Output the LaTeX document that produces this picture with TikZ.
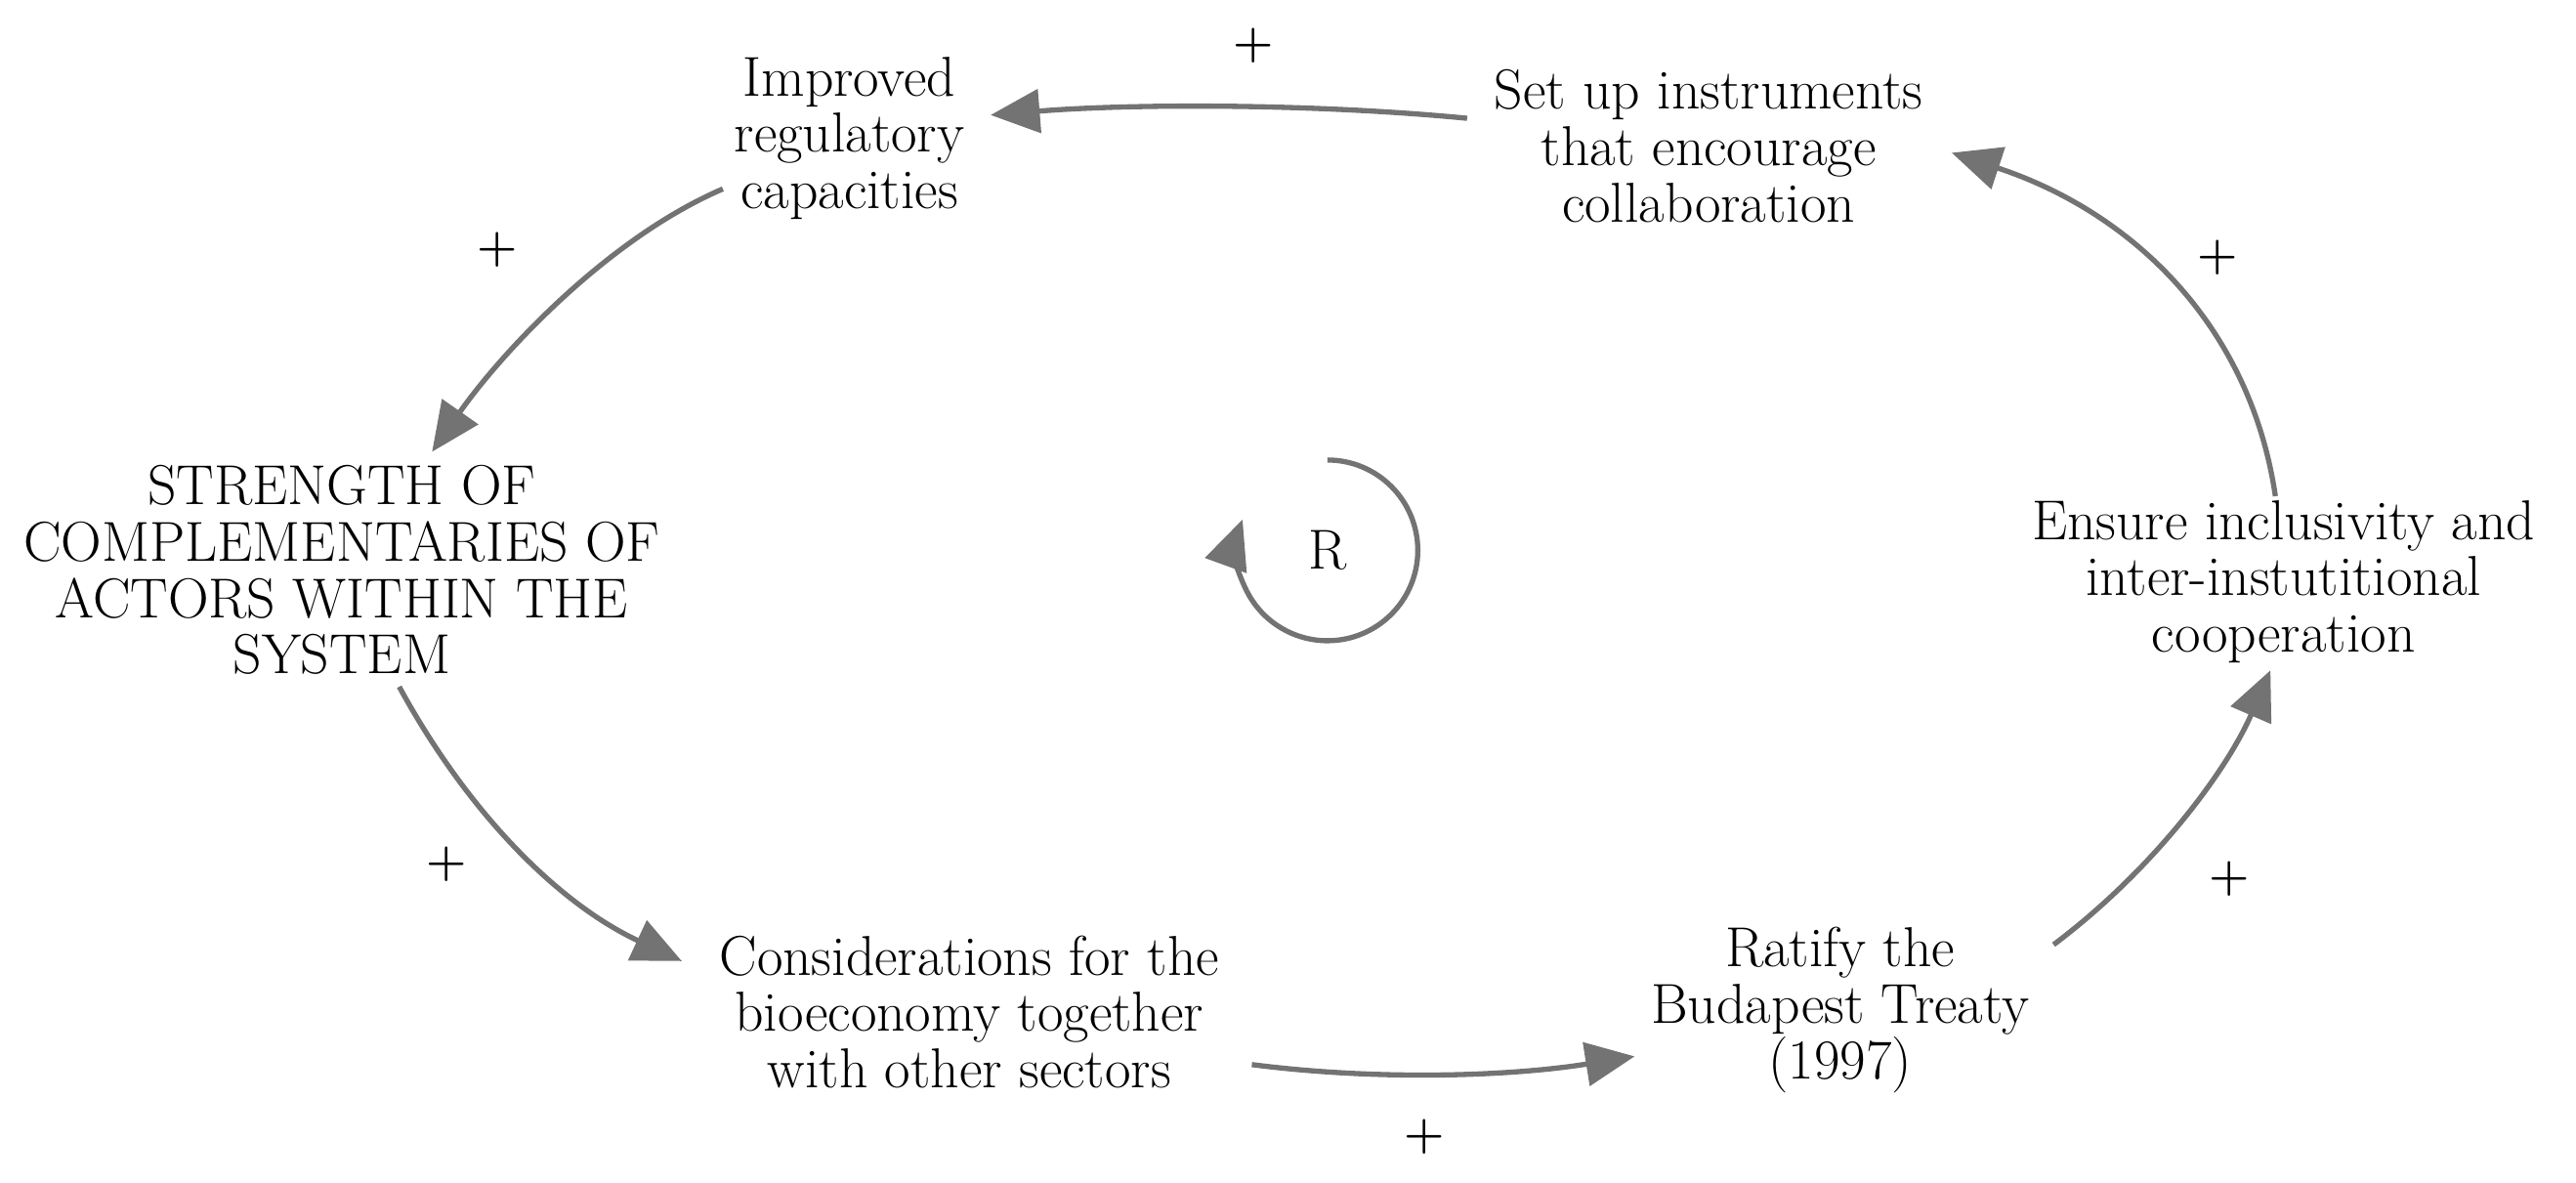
\documentclass[tikz,border=0pt]{standalone}
\usetikzlibrary{arrows.meta}
\begin{document}
\begin{tikzpicture}[x=0.02cm,y=-0.02cm,
  lbl/.style={align=center,font=\fontsize{19.5}{19.5}\selectfont,inner sep=0pt},
  pl/.style={font=\fontsize{16}{18}\selectfont\bfseries},
  conn/.style={draw=gray!90!black,line width=1.8pt,-{Triangle[width=15pt,length=17pt]}}]
\useasboundingbox (0,0) rectangle (1568,720);
\node[lbl] (imp) at (517,84) {Improved\\regulatory\\capacities};
\node[lbl] (set) at (1040,89) {Set up instruments\\that encourage\\collaboration};
\node[lbl] (str) at (208,347) {STRENGTH OF\\COMPLEMENTARIES OF\\ACTORS WITHIN THE\\SYSTEM};
\node[lbl] (ens) at (1390,354) {Ensure inclusivity and\\inter-instutitional\\cooperation};
\node[lbl] (con) at (590,616) {Considerations for the\\bioeconomy together\\with other sectors};
\node[lbl] (rat) at (1120,615) {Ratify the\\Budapest Treaty\\(1997)};
\node[lbl] (r) at (808,335) {R};
\coordinate (a1) at (893,72); \coordinate (a2) at (603,70);
\coordinate (b1) at (440,115); \coordinate (b2) at (263,275);
\coordinate (c1) at (243,418); \coordinate (c2) at (415,585);
\coordinate (d1) at (762,648); \coordinate (d2) at (995,643);
\coordinate (e1) at (1250,575); \coordinate (e2) at (1382,408);
\coordinate (f1) at (1385,302); \coordinate (f2) at (1188,93);
\draw[conn] (a1) .. controls (800,63) and (690,63) .. (a2);
\draw[conn] (b1) .. controls (370,145) and (305,215) .. (b2);
\draw[conn] (c1) .. controls (285,495) and (340,550) .. (c2);
\draw[conn] (d1) .. controls (840,658) and (920,655) .. (d2);
\draw[conn] (e1) .. controls (1310,530) and (1355,470) .. (e2);
\draw[conn] (f1) .. controls (1370,200) and (1300,130) .. (f2);
\draw[conn] (808,280) arc[start angle=-90,end angle=200,radius=55];
\node[pl] at (763,28) {+};
\node[pl] at (303,152) {+};
\node[pl] at (272,526) {+};
\node[pl] at (867,692) {+};
\node[pl] at (1357,535) {+};
\node[pl] at (1350,157) {+};
\end{tikzpicture}
\end{document}
